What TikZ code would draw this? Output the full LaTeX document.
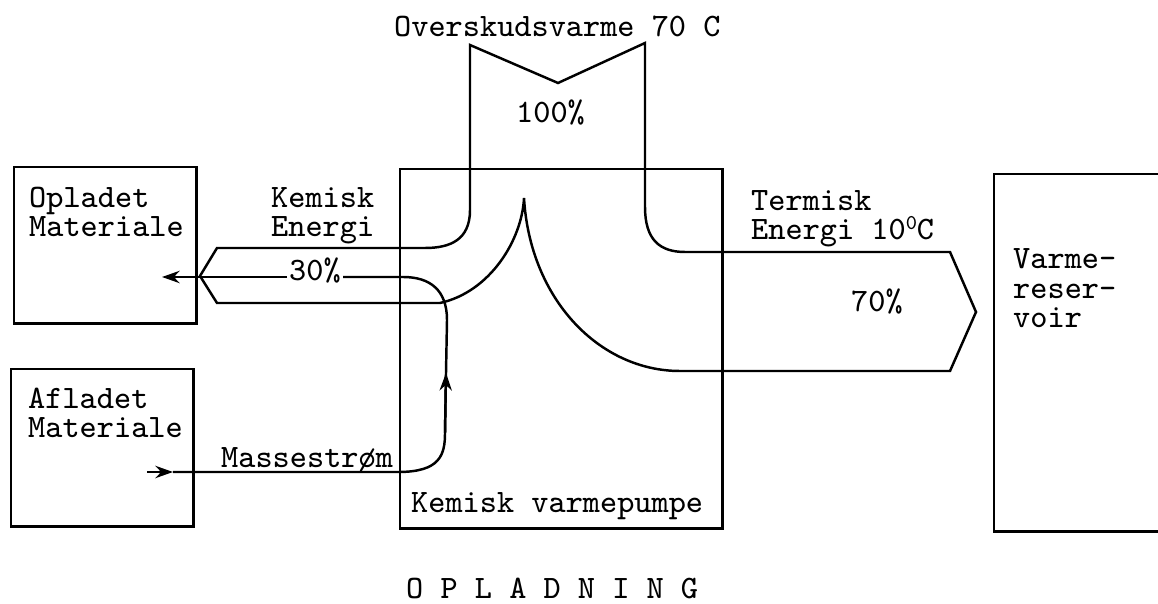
\documentclass[tikz,border=0pt]{standalone}
\usepackage{fontspec}
\usetikzlibrary{arrows.meta}

\begin{document}
\begin{tikzpicture}[x=0.01cm,y=-0.01cm,line width=0.7pt,
  box/.style={draw,inner sep=0,anchor=north west},
  txt/.style={font=\ttfamily\fontsize{9.3}{8.4}\selectfont,inner sep=0,anchor=base west,align=left},
  tip/.style={-{Stealth[length=5pt,width=3.5pt]}}]

\clip (0,0) rectangle (1158,604);

% boxes
\node[box,minimum width=1.82cm,minimum height=1.56cm] (opl) at (13,166) {};
\node[box,minimum width=1.82cm,minimum height=1.57cm] (afl) at (10,368) {};
\node[box,minimum width=3.22cm,minimum height=3.59cm] (pump) at (399,168) {};
\node[box,minimum width=2.00cm,minimum height=3.57cm] (res) at (993,173) {};

% energy flow
\draw[line join=miter] (470,45) -- (470,210) .. controls (470,240) and (450,248) .. (425,248)
   -- (217,248) -- (200,276) -- (217,303) -- (440,303)
   .. controls (490,292) and (522,240) .. (524,198)
   .. controls (530,300) and (600,371) .. (680,371)
   -- (950,371) -- (976,312) -- (950,252) -- (685,252)
   .. controls (660,252) and (645,240) .. (645,207)
   -- (645,43) -- (558,83) -- cycle;

% mass flow
\coordinate (m0) at (147,472);
\coordinate (m1) at (173,472);
\coordinate (up) at (446,373);
\coordinate (back) at (343,277);
\coordinate (out0) at (287,277);
\coordinate (out1) at (162,277);
\draw[tip] (m0) -- (m1);
\draw (m1) -- (398,472) .. controls (440,472) and (445,455) .. (445,433) -- (up);
\draw[tip] (445,433) -- (up);
\draw (up) -- (447,320) .. controls (447,290) and (430,277) .. (403,277) -- (back);
\draw[tip] (out0) -- (out1);

% texts (base = last line)
\node[txt] (t1) at (393,37) {Overskudsvarme 70 C};
\node[txt] (t2) at (515,123) {100\%};
\node[txt] (t3) at (28,237) {Opladet\\Materiale};
\node[txt] (t4) at (270,237) {Kemisk\\Energi};
\node[txt] (t5) at (288,281) {30\%};
\node[txt] (t6) at (750,240) {Termisk\\Energi 10{\fontsize{6}{6}\selectfont\raisebox{1.1ex}{0}}C};
\node[txt] (t7) at (850,312) {70\%};
\node[txt] (t8) at (1012,328) {Varme-\\reser-\\voir};
\node[txt] (t9) at (27,438) {Afladet\\Materiale};
\node[txt] (t10) at (220,468) {Massestrøm};
\node[txt] (t11) at (410,512) {Kemisk varmepumpe};
\node[txt] (t12) at (405,598) {O P L A D N I N G};

\end{tikzpicture}
\end{document}
